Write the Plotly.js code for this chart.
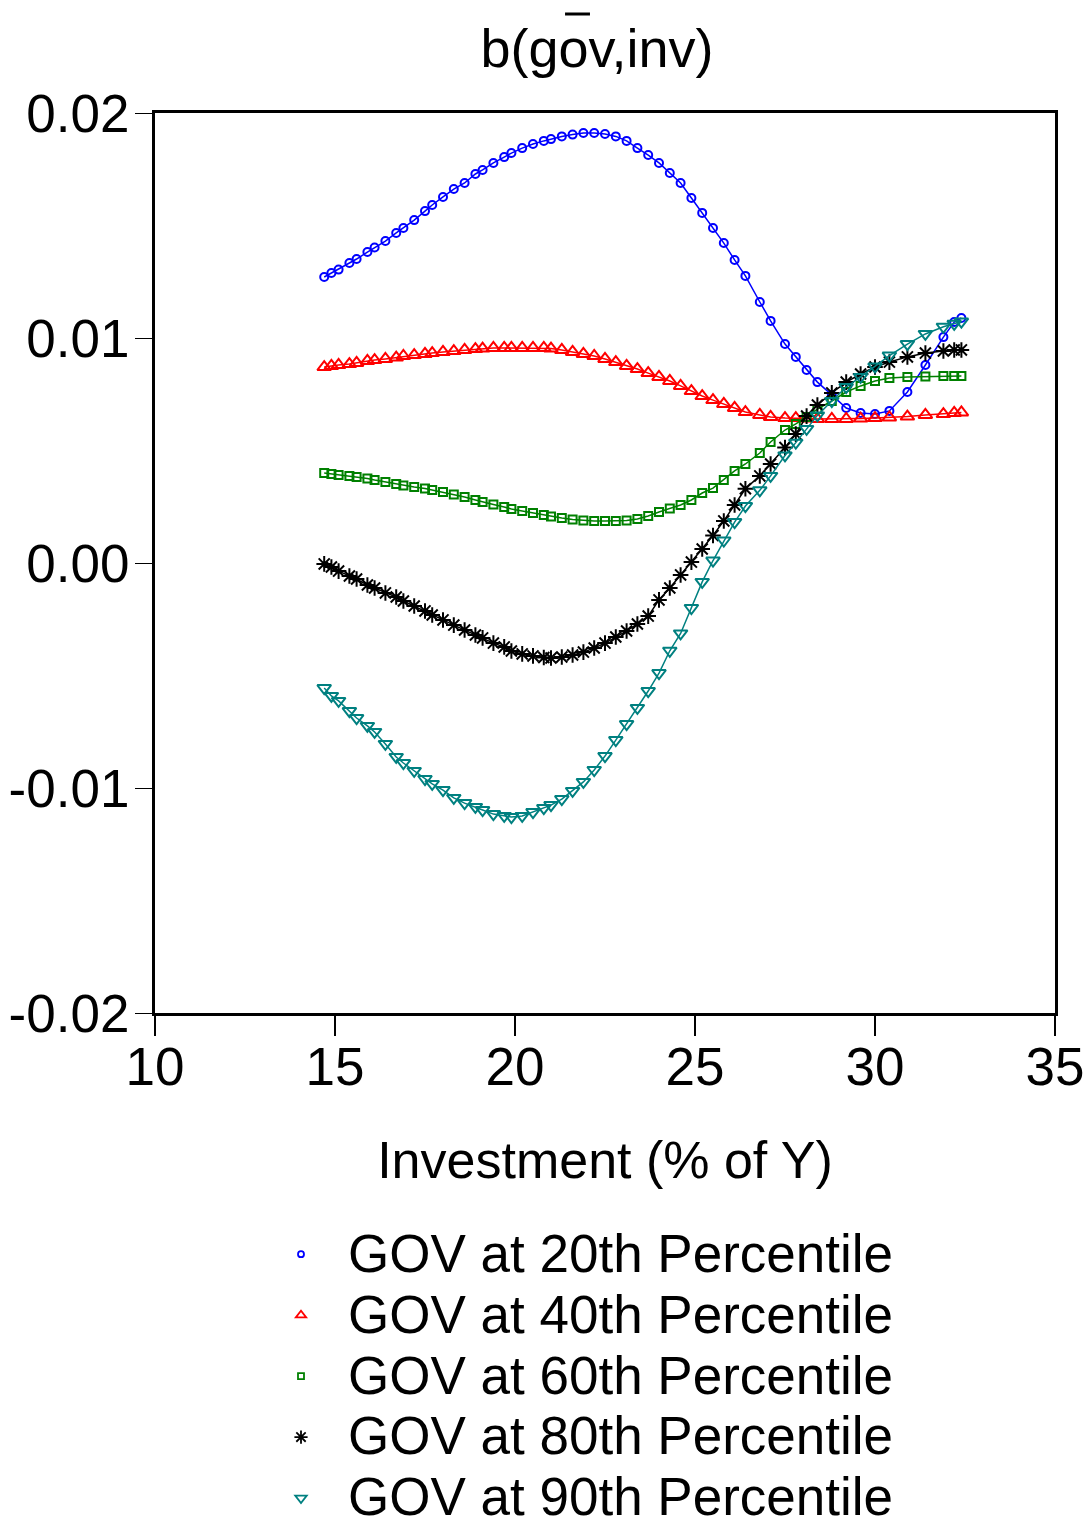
<!DOCTYPE html>
<html>
<head>
<meta charset="utf-8">
<script src="https://cdn.plot.ly/plotly-3.0.1.min.js"></script>
<style>html,body{margin:0;padding:0;background:#fff;}#chart{width:1088px;height:1522px;}</style>
</head>
<body>
<div id="chart"></div>
<script>
// Investment (% of Y) sample points
var investment = [14.7, 14.9, 15.1, 15.4, 15.6, 15.9, 16.1, 16.4, 16.7, 16.9, 17.2, 17.5, 17.7, 18.0, 18.3, 18.6, 18.9, 19.1, 19.4, 19.7, 19.9, 20.2, 20.5, 20.8, 21.0, 21.3, 21.6, 21.9, 22.2, 22.5, 22.8, 23.1, 23.4, 23.7, 24.0, 24.3, 24.6, 24.9, 25.2, 25.5, 25.8, 26.1, 26.4, 26.8, 27.1, 27.5, 27.8, 28.1, 28.4, 28.8, 29.2, 29.6, 30.0, 30.4, 30.9, 31.4, 31.9, 32.2, 32.4];

var gov20 = [0.01271, 0.01289, 0.01304, 0.01333, 0.01351, 0.01382, 0.01402, 0.01431, 0.01467, 0.01489, 0.01524, 0.01564, 0.01591, 0.01627, 0.01662, 0.01689, 0.01729, 0.01747, 0.01778, 0.01804, 0.01822, 0.01844, 0.01862, 0.01876, 0.01884, 0.01896, 0.01904, 0.01911, 0.01911, 0.01907, 0.01896, 0.01876, 0.01844, 0.01813, 0.01778, 0.01733, 0.01689, 0.01622, 0.01556, 0.01489, 0.01422, 0.01347, 0.01276, 0.01160, 0.01076, 0.00973, 0.00916, 0.00858, 0.00804, 0.00747, 0.00689, 0.00667, 0.00662, 0.00676, 0.00760, 0.00880, 0.01004, 0.01071, 0.01089];

var gov40 = [0.00871, 0.00876, 0.00880, 0.00884, 0.00889, 0.00898, 0.00902, 0.00907, 0.00913, 0.00920, 0.00924, 0.00929, 0.00933, 0.00938, 0.00942, 0.00947, 0.00951, 0.00953, 0.00956, 0.00956, 0.00956, 0.00956, 0.00956, 0.00956, 0.00953, 0.00947, 0.00938, 0.00929, 0.00920, 0.00907, 0.00893, 0.00876, 0.00862, 0.00844, 0.00827, 0.00809, 0.00787, 0.00764, 0.00742, 0.00724, 0.00707, 0.00689, 0.00671, 0.00658, 0.00649, 0.00644, 0.00644, 0.00642, 0.00640, 0.00640, 0.00640, 0.00642, 0.00644, 0.00647, 0.00651, 0.00658, 0.00662, 0.00667, 0.00669];

var gov60 = [0.00400, 0.00396, 0.00391, 0.00387, 0.00382, 0.00376, 0.00369, 0.00360, 0.00351, 0.00344, 0.00338, 0.00331, 0.00324, 0.00316, 0.00304, 0.00293, 0.00280, 0.00271, 0.00260, 0.00249, 0.00240, 0.00231, 0.00222, 0.00213, 0.00207, 0.00200, 0.00193, 0.00189, 0.00187, 0.00187, 0.00187, 0.00189, 0.00196, 0.00209, 0.00227, 0.00242, 0.00258, 0.00280, 0.00311, 0.00333, 0.00369, 0.00409, 0.00440, 0.00489, 0.00538, 0.00591, 0.00618, 0.00649, 0.00684, 0.00720, 0.00760, 0.00787, 0.00809, 0.00822, 0.00827, 0.00829, 0.00831, 0.00831, 0.00831];

var gov80 = [-0.00004, -0.00018, -0.00036, -0.00058, -0.00071, -0.00098, -0.00111, -0.00133, -0.00151, -0.00169, -0.00191, -0.00213, -0.00231, -0.00253, -0.00276, -0.00298, -0.00320, -0.00333, -0.00356, -0.00373, -0.00391, -0.00404, -0.00413, -0.00420, -0.00422, -0.00418, -0.00409, -0.00396, -0.00378, -0.00356, -0.00329, -0.00302, -0.00271, -0.00236, -0.00164, -0.00111, -0.00053, 0.00004, 0.00062, 0.00122, 0.00187, 0.00258, 0.00330, 0.00387, 0.00440, 0.00513, 0.00573, 0.00653, 0.00702, 0.00756, 0.00804, 0.00840, 0.00871, 0.00893, 0.00916, 0.00933, 0.00942, 0.00947, 0.00947];

var gov90 = [-0.00556, -0.00591, -0.00613, -0.00658, -0.00689, -0.00724, -0.00751, -0.00804, -0.00862, -0.00889, -0.00924, -0.00960, -0.00982, -0.01009, -0.01044, -0.01067, -0.01084, -0.01098, -0.01116, -0.01124, -0.01129, -0.01124, -0.01107, -0.01089, -0.01076, -0.01049, -0.01013, -0.00973, -0.00920, -0.00858, -0.00787, -0.00716, -0.00644, -0.00569, -0.00489, -0.00390, -0.00313, -0.00200, -0.00084, 0.00011, 0.00100, 0.00182, 0.00253, 0.00323, 0.00387, 0.00478, 0.00535, 0.00596, 0.00656, 0.00720, 0.00782, 0.00827, 0.00873, 0.00922, 0.00973, 0.01018, 0.01050, 0.01063, 0.01073];

var seriesNames = ["GOV at 20th Percentile", "GOV at 40th Percentile", "GOV at 60th Percentile", "GOV at 80th Percentile", "GOV at 90th Percentile"];
var yTickVals = [-0.02, -0.01, 0.0, 0.01, 0.02];
var yTickText = ["-0.02", "-0.01", "0.00", "0.01", "0.02"];
var xTickVals = [10, 15, 20, 25, 30, 35];

var seriesData = [gov20, gov40, gov60, gov80, gov90];
var colors = ["#0000FF", "#FF0000", "#008000", "#000000", "#008080"];
var symbols = ["circle-open", "triangle-up-open", "square-open", "asterisk-open", "triangle-down-open"];
var sizes = [8, 12, 8, 13, 12];
var legendSizes = [6, 9, 6, 11, 10];

var FONT = "Liberation Sans, Arial, sans-serif";
var traces = [];
for (var i = 0; i < seriesData.length; i++) {
  traces.push({
    x: investment, y: seriesData[i], type: "scatter", mode: "lines+markers",
    line: {color: colors[i], width: 1.5},
    marker: {symbol: symbols[i], size: sizes[i], color: colors[i], line: {color: colors[i], width: 2}},
    showlegend: false, hoverinfo: "skip"
  });
}
for (var j = 0; j < seriesData.length; j++) {
  traces.push({
    x: [null], y: [null], type: "scatter", mode: "markers",
    name: '<span style="font-size:53px">' + seriesNames[j] + '</span>',
    marker: {symbol: symbols[j], size: legendSizes[j], color: colors[j], line: {color: colors[j], width: 1.8}},
    showlegend: true
  });
}

var layout = {
  width: 1088, height: 1522,
  margin: {l: 155, r: 33, t: 113, b: 509, autoexpand: false},
  paper_bgcolor: "#ffffff", plot_bgcolor: "#ffffff",
  font: {family: FONT, color: "#000000", size: 53},
  title: {text: "b(gov,inv)", font: {family: FONT, size: 54, color: "#000"},
          x: 597 / 1088, xref: "container", xanchor: "center",
          y: 1 - 48 / 1522, yref: "container", yanchor: "middle"},
  xaxis: {
    range: [10, 35], tickmode: "array", tickvals: xTickVals,
    ticks: "outside", ticklen: 20, tickwidth: 1.5, tickcolor: "#000",
    showline: true, linecolor: "#000", linewidth: 3, mirror: true,
    showgrid: false, zeroline: false, ticklabelstandoff: -15,
    tickfont: {family: FONT, size: 53, color: "#000"},
    title: {text: "Investment (% of Y)", font: {family: FONT, size: 52, color: "#000"}, standoff: 48}
  },
  yaxis: {
    range: [-0.02, 0.02], tickmode: "array", tickvals: yTickVals, ticktext: yTickText,
    ticks: "outside", ticklen: 17, tickwidth: 1, tickcolor: "#000",
    showline: true, linecolor: "#000", linewidth: 3, mirror: true,
    showgrid: false, zeroline: false, ticklabelstandoff: -5,
    tickfont: {family: FONT, size: 53, color: "#000"}
  },
  legend: {
    x: 0.11, xanchor: "left", y: -0.2285, yanchor: "top",
    font: {family: FONT, size: 44.6, color: "#000"},
    bgcolor: "rgba(0,0,0,0)", borderwidth: 0, itemwidth: 84,
    tracegroupgap: 0
  },
  shapes: [
    {type: "line", xref: "paper", yref: "paper", x0: 0.4556, x1: 0.4833, y0: 1.11, y1: 1.11,
     line: {color: "#000", width: 3}}
  ],
  showlegend: true
};

Plotly.newPlot("chart", traces, layout, {staticPlot: true, displayModeBar: false});
</script>
</body>
</html>
